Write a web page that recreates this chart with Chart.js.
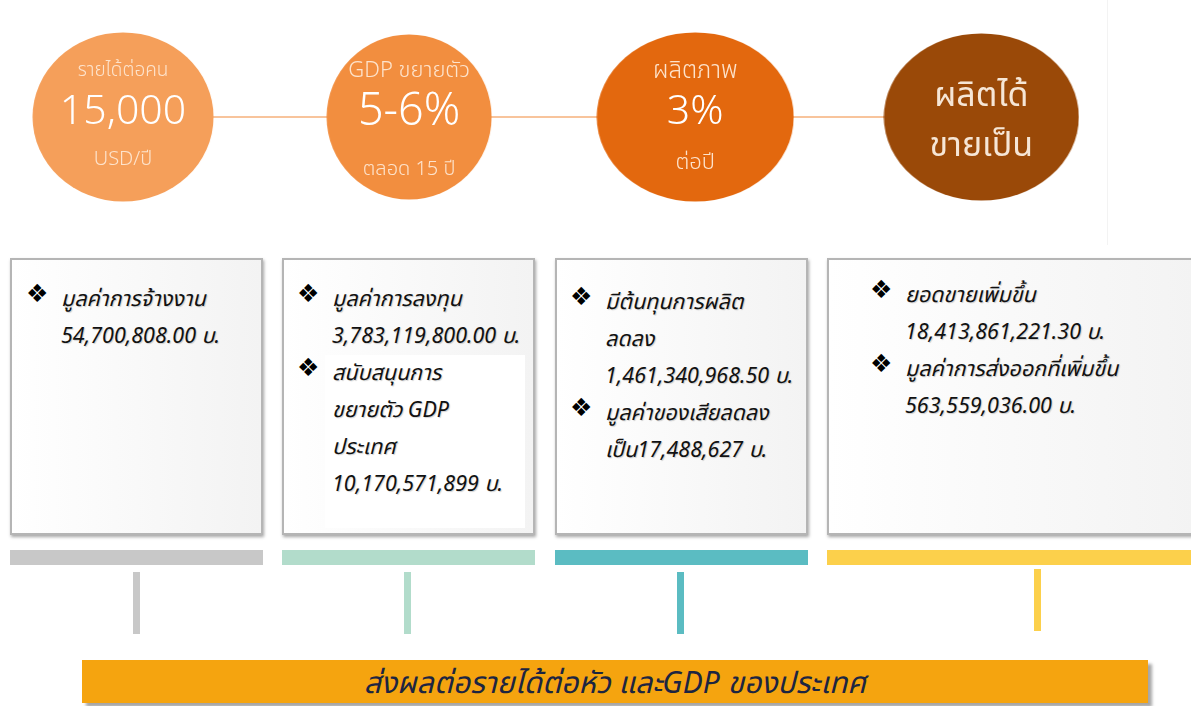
<!DOCTYPE html>
<html lang="th">
<head>
<meta charset="utf-8">
<script src="https://cdn.jsdelivr.net/npm/chart.js@4.4.1/dist/chart.umd.min.js"></script>
<style>
  html, body { margin: 0; padding: 0; background: #ffffff; }
  body { width: 1191px; height: 706px; position: relative; overflow: hidden;
         font-family: "Noto Sans", "Noto Sans Thai", "Loma", "Garuda", "DejaVu Sans", sans-serif; }
  #topPanel { position: absolute; left: 0; top: 0; width: 1107px; height: 245px;
              border-right: 1px solid #f3f3f3; background: #fff; }
  #topChart { position: absolute; left: 0; top: 0; }
  .box { position: absolute; top: 258px; height: 277px; box-sizing: border-box;
         border: 2px solid #b5b5b5; background: linear-gradient(to right, #ffffff 0%, #f3f3f3 100%);
         box-shadow: 1px 2px 3px rgba(0,0,0,0.35); }
  .item { position: relative; font-style: italic; font-size: 21.5px; line-height: 37px; color: #111;
          text-shadow: 1px 1px 1px rgba(0,0,0,0.18); white-space: nowrap; }
  .bullet { position: absolute; font-style: normal; font-size: 25px; color: #000; text-shadow: none;
            font-family: "DejaVu Sans", sans-serif; }
  .whitepatch { position: absolute; background: #ffffff; }
  .bar { position: absolute; top: 550px; height: 15px; }
  .stub { position: absolute; width: 7px; }
  #banner { position: absolute; left: 82px; top: 660px; width: 1066px; height: 43px; background: #f5a40f;
            box-shadow: 4px 4px 3px rgba(0,0,0,0.35); text-align: center; line-height: 43px;
            font-style: italic; font-size: 30px; color: #1c2541; }
</style>
</head>
<body>
<div id="topPanel"><canvas id="topChart" width="1107" height="234"></canvas></div>
<div id="boxes"></div>
<div id="banner"></div>
<script>
// ---------- data ----------
const stageLabels   = ['รายได้ต่อคน', 'GDP ขยายตัว', 'ผลิตภาพ', 'ผลิตได้'];
const stageValues   = ['15,000', '5-6%', '3%', 'ขายเป็น'];
const stageUnits    = ['USD/ปี', 'ตลอด 15 ปี', 'ต่อปี', ''];
const stageIndex    = [0, 1, 2, 3];

const box1Items = [['มูลค่าการจ้างงาน', '54,700,808.00 บ.']];
const box2Items = [['มูลค่าการลงทุน', '3,783,119,800.00 บ.'],
                   ['สนับสนุนการ', 'ขยายตัว GDP', 'ประเทศ', '10,170,571,899 บ.']];
const box3Items = [['มีต้นทุนการผลิต', 'ลดลง', '1,461,340,968.50 บ.'],
                   ['มูลค่าของเสียลดลง', 'เป็น17,488,627 บ.']];
const box4Items = [['ยอดขายเพิ่มขึ้น', '18,413,861,221.30 บ.'],
                   ['มูลค่าการส่งออกที่เพิ่มขึ้น', '563,559,036.00 บ.']];
const bannerText = 'ส่งผลต่อรายได้ต่อหัว และGDP ของประเทศ';

// ---------- styles ----------
const circleColors = ['#f59f5a', '#f28e3f', '#e3680e', '#9a4908'];
const circleRx = [91, 83, 99, 98];
const circleRy = [85, 83, 85, 84];
const lineColor = '#f8c49c';

function ellipseImage(color, rx, ry) {
  const c = document.createElement('canvas');
  c.width = rx * 2; c.height = ry * 2;
  const g = c.getContext('2d');
  g.fillStyle = color;
  g.beginPath();
  g.ellipse(rx, ry, rx - 0.5, ry - 0.5, 0, 0, Math.PI * 2);
  g.fill();
  return c;
}
const ellipseStyles = stageIndex.map(i => ellipseImage(circleColors[i], circleRx[i], circleRy[i]));

const thaiFont = '"Noto Sans", "Noto Sans Thai", "Loma", "Garuda", sans-serif';
const labelSizes = [19, 22, 24];
const valueSizes = [41, 45, 41];
const unitSizes  = [20, 20, 22];
const unitOffsets = [42, 52, 46];
const circleText = {
  id: 'circleText',
  afterDatasetsDraw(chart) {
    const meta = chart.getDatasetMeta(1);
    const ctx = chart.ctx;
    ctx.save();
    ctx.textAlign = 'center';
    ctx.textBaseline = 'middle';
    meta.data.forEach((pt, i) => {
      const x = pt.x, y = pt.y;
      if (i < 3) {
        ctx.fillStyle = '#fde3cc';
        ctx.font = '300 ' + labelSizes[i] + 'px ' + thaiFont;
        ctx.fillText(stageLabels[i], x, y - 46);
        ctx.fillStyle = '#ffffff';
        ctx.font = '300 ' + valueSizes[i] + 'px ' + thaiFont;
        ctx.fillText(stageValues[i], x, y - 5);
        ctx.fillStyle = '#fde3cc';
        ctx.font = '300 ' + unitSizes[i] + 'px ' + thaiFont;
        ctx.fillText(stageUnits[i], x, y + unitOffsets[i]);
      } else {
        ctx.fillStyle = '#f6e6d6';
        ctx.font = '400 34px ' + thaiFont;
        ctx.fillText(stageLabels[i], x, y - 21);
        ctx.fillText(stageValues[i], x, y + 29);
      }
    });
    ctx.restore();
  }
};

new Chart(document.getElementById('topChart'), {
  data: {
    datasets: [
      { type: 'line', data: stageIndex.map(i => ({ x: i, y: 0 })), borderColor: lineColor,
        borderWidth: 2, pointRadius: 0, order: 2 },
      { type: 'scatter', data: stageIndex.map(i => ({ x: i, y: 0 })), pointStyle: ellipseStyles,
        pointRadius: 90, order: 1 }
    ]
  },
  options: {
    responsive: false, animation: false, clip: false,
    layout: { padding: 0, autoPadding: false },
    plugins: { legend: { display: false }, tooltip: { enabled: false } },
    scales: {
      x: { type: 'linear', display: false, min: -0.43, max: -0.43 + 1107 / 286.1 },
      y: { type: 'linear', display: false, min: -1, max: 1 }
    }
  },
  plugins: [circleText]
});

// ---------- boxes ----------
const boxDefs = [
  { items: box1Items, left: 10,  width: 253, textLeft: 49, top: 19, color: '#c8c8c8', stubX: 133, stubTop: 572, stubH: 62 },
  { items: box2Items, left: 282, width: 253, textLeft: 48, top: 19, color: '#b2dccb', stubX: 404, stubTop: 572, stubH: 62 },
  { items: box3Items, left: 555, width: 253, textLeft: 48, top: 22, color: '#5bbcc2', stubX: 677, stubTop: 572, stubH: 62 },
  { items: box4Items, left: 827, width: 370, textLeft: 76, top: 15, color: '#fcd04b', stubX: 1034, stubTop: 569, stubH: 62 }
];
const host = document.getElementById('boxes');
boxDefs.forEach((b, bi) => {
  const box = document.createElement('div');
  box.className = 'box';
  box.style.left = b.left + 'px';
  box.style.width = b.width + 'px';
  if (bi === 1) {
    const wp = document.createElement('div');
    wp.className = 'whitepatch';
    wp.style.left = '41px'; wp.style.top = '95px'; wp.style.width = '200px'; wp.style.height = '173px';
    box.appendChild(wp);
  }
  const inner = document.createElement('div');
  inner.style.position = 'absolute';
  inner.style.left = b.textLeft + 'px';
  inner.style.top = b.top + 'px';
  b.items.forEach(lines => {
    lines.forEach((ln, li) => {
      const d = document.createElement('div');
      d.className = 'item';
      d.textContent = ln;
      if (li === 0) {
        const bu = document.createElement('span');
        bu.className = 'bullet';
        bu.textContent = '❖';
        bu.style.left = '-35px';
        bu.style.top = '-4px';
        d.appendChild(bu);
      }
      inner.appendChild(d);
    });
  });
  box.appendChild(inner);
  host.appendChild(box);

  const bar = document.createElement('div');
  bar.className = 'bar';
  bar.style.left = b.left + 'px';
  bar.style.width = (bi === 3 ? 1191 - b.left : b.width) + 'px';
  bar.style.background = b.color;
  document.body.appendChild(bar);

  const stub = document.createElement('div');
  stub.className = 'stub';
  stub.style.left = b.stubX + 'px';
  stub.style.top = b.stubTop + 'px';
  stub.style.height = b.stubH + 'px';
  stub.style.background = b.color;
  document.body.appendChild(stub);
});
document.getElementById('banner').textContent = bannerText;
</script>
</body>
</html>
